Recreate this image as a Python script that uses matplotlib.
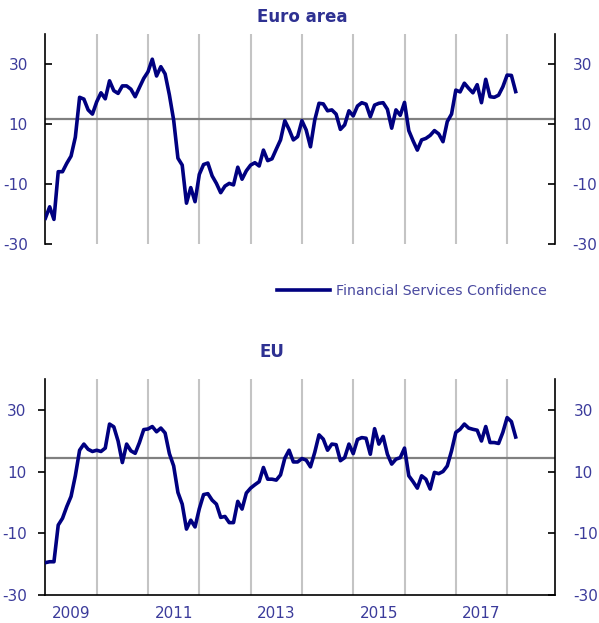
import matplotlib
matplotlib.use("Agg")
import matplotlib.pyplot as plt
from matplotlib.lines import Line2D
import numpy as np

plt.rcParams["axes.unicode_minus"] = False

# Monthly data, Jan 2009 .. Mar 2018 (month index 0 = Jan 2009)
euro_area = [
    -21.4, -17.6, -21.8, -5.9, -5.9, -3.1, -0.7, 5.6, 18.9, 18.3, 14.7, 13.3,
    17.4, 20.4, 18.4, 24.4, 21.1, 20.2, 22.7, 22.7, 21.6, 19.1, 22.2, 25.2,
    27.4, 31.6, 26.0, 29.1, 26.7, 19.7, 11.3, -1.4, -3.7, -16.4, -11.2, -15.9,
    -6.8, -3.5, -3.0, -7.3, -9.8, -12.9, -10.7, -9.8, -10.3, -4.4, -8.4, -5.6,
    -3.7, -2.9, -4.0, 1.3, -2.2, -1.6, 1.6, 4.7, 11.1, 8.2, 4.7, 5.8,
    11.1, 8.0, 2.4, 11.3, 16.9, 16.7, 14.4, 14.7, 13.3, 8.2, 9.7, 14.4,
    12.7, 16.0, 17.1, 16.6, 12.4, 16.3, 16.9, 17.1, 14.9, 8.6, 14.7, 12.9,
    17.2, 7.8, 4.4, 1.3, 4.7, 5.2, 6.2, 7.8, 6.7, 4.1, 10.8, 13.3,
    21.3, 20.7, 23.6, 21.9, 20.4, 23.1, 17.1, 24.9, 19.1, 18.9, 19.6, 22.4,
    26.3, 26.2, 20.8,
]
eu = [
    -19.5, -19.2, -19.2, -7.3, -5.1, -1.3, 2.0, 8.7, 17.0, 19.0, 17.3, 16.6,
    17.0, 16.6, 17.7, 25.5, 24.6, 20.0, 13.0, 19.0, 16.8, 16.0, 19.5, 23.7,
    23.9, 24.7, 23.0, 24.2, 22.6, 15.9, 11.9, 3.3, -0.5, -8.6, -5.7, -7.9,
    -2.0, 2.6, 2.9, 0.8, -0.5, -4.8, -4.5, -6.5, -6.5, 0.4, -2.1, 3.1,
    4.7, 5.8, 6.8, 11.4, 7.6, 7.6, 7.3, 9.0, 14.4, 17.0, 13.2, 13.2,
    14.3, 13.8, 11.6, 16.3, 22.0, 20.6, 17.0, 19.0, 18.8, 13.6, 14.6, 19.0,
    15.9, 20.5, 21.1, 20.9, 15.7, 24.0, 19.0, 21.5, 15.7, 12.5, 14.1, 14.6,
    17.7, 8.7, 6.8, 4.7, 8.7, 7.6, 4.4, 9.8, 9.4, 10.1, 11.9, 16.8,
    22.8, 23.8, 25.5, 24.2, 23.8, 23.5, 20.0, 24.7, 19.5, 19.5, 19.2, 22.8,
    27.6, 26.3, 21.3,
]
long_term_avg = {"Euro area": 11.8, "EU": 14.4}
year_labels = ["2009", "2011", "2013", "2015", "2017"]
label_years = [2009, 2011, 2013, 2015, 2017]
series_name = "Financial Services Confidence"

W, H = 599, 623
fig = plt.figure(figsize=(W / 100, H / 100), dpi=100)

title_col = "#2E3192"
tick_col = "#3B3B9B"
line_col = "#000080"
grid_col = "#C4C4C4"
avg_col = "#808080"

months = np.arange(len(euro_area))
xmax = 119.2


def px_axes(left, top, right, bottom):
    return [left / W, 1 - bottom / H, (right - left) / W, (bottom - top) / H]


def style(ax, bottom_spine, left_dir):
    ax.set_xlim(0, xmax)
    ax.set_ylim(-30, 40)
    ax.spines["top"].set_visible(False)
    ax.spines["bottom"].set_visible(bottom_spine)
    for s in ["left", "right", "bottom"]:
        ax.spines[s].set_color("black")
        ax.spines[s].set_linewidth(1.2)
    ax.set_yticks([-30, -10, 10, 30])
    ax.yaxis.set_ticks_position("both")
    ax.tick_params(axis="y", which="both", left=True, right=True,
                   labelleft=True, labelright=True, labelsize=11,
                   labelcolor=tick_col, length=5, width=1.2, color="black")
    if left_dir == "in":
        ax.tick_params(axis="y", direction="in", pad=12.5)
    else:
        ax.tick_params(axis="y", direction="out", pad=8.5)
        for t in ax.yaxis.get_major_ticks():
            t.tick2line.set_marker(matplotlib.lines.TICKLEFT)
    # vertical year gridlines
    ax.set_xticks(np.arange(12, 120, 12))
    ax.tick_params(axis="x", which="major", length=0, labelbottom=False)
    ax.grid(axis="x", which="major", color=grid_col, linewidth=1.5)
    ax.set_axisbelow(True)


# --- Euro area ---
ax1 = fig.add_axes(px_axes(45.4, 34, 555, 244))
style(ax1, bottom_spine=False, left_dir="in")
ax1.axhline(long_term_avg["Euro area"], color=avg_col, linewidth=1.6, zorder=2)
ax1.plot(months, euro_area, color=line_col, linewidth=2.6, zorder=3,
         solid_joinstyle="round", label=series_name)
ax1.set_xticks([], minor=True)
fig.text(302 / W, 1 - 17 / H, "Euro area", ha="center", va="center",
         fontsize=12, fontweight="bold", color=title_col)

# --- EU ---
ax2 = fig.add_axes(px_axes(45.4, 379.4, 555, 595))
style(ax2, bottom_spine=True, left_dir="out")
ax2.axhline(long_term_avg["EU"], color=avg_col, linewidth=1.6, zorder=2)
ax2.plot(months, eu, color=line_col, linewidth=2.6, zorder=3,
         solid_joinstyle="round")
ax2.set_xticks([(y - 2009) * 12 + 6 for y in label_years], minor=True)
ax2.set_xticklabels(year_labels, minor=True)
ax2.tick_params(axis="x", which="minor", length=0, labelsize=11,
                labelcolor=tick_col, pad=8)
fig.text(272 / W, 1 - 352 / H, "EU", ha="center", va="center",
         fontsize=12, fontweight="bold", color=title_col)

# legend
leg = fig.legend(handles=[Line2D([], [], color=line_col, linewidth=2.6)],
                 labels=[series_name], loc="center left",
                 bbox_to_anchor=(277 / W, 1 - 291 / H), frameon=False,
                 fontsize=10.2, handlelength=3.75, handletextpad=0.42,
                 borderpad=0, borderaxespad=0)
for t in leg.get_texts():
    t.set_color("#4A4AA0")

fig.savefig("out.png", dpi=100)
